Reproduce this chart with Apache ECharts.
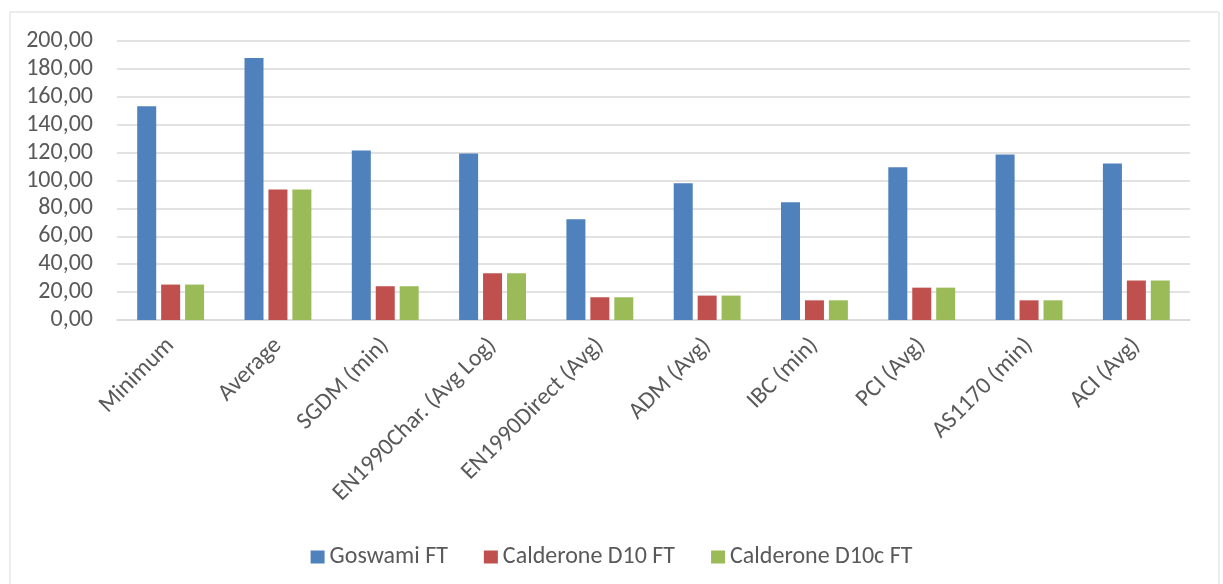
<!DOCTYPE html>
<html>
<head>
<meta charset="utf-8">
<script src="https://cdn.jsdelivr.net/npm/echarts@6/dist/echarts.min.js"></script>
<style>
  html, body { margin: 0; padding: 0; background: #fff; }
  #chart { width: 1223px; height: 584px; }
</style>
</head>
<body>
<div id="chart"></div>
<script>
const categories = ['Minimum', 'Average', 'SGDM (min)', 'EN1990Char. (Avg Log)', 'EN1990Direct (Avg)',
  'ADM (Avg)', 'IBC (min)', 'PCI (Avg)', 'AS1170 (min)', 'ACI (Avg)']
const goswami = [153.2, 187.9, 121.5, 119.3, 72.2, 98.0, 84.4, 109.5, 118.6, 112.2]
const calderoneD10 = [25.4, 93.5, 24.2, 33.5, 16.3, 17.5, 14.1, 23.2, 14.1, 28.3]
const calderoneD10c = [25.4, 93.5, 24.2, 33.5, 16.3, 17.5, 14.1, 23.2, 14.1, 28.3]
const seriesNames = ['Goswami FT', 'Calderone D10 FT', 'Calderone D10c FT']
const colors = ['#4f81bd', '#c0504d', '#9bbb59']

const font = 'Carlito, "Liberation Sans", sans-serif'
let myChart = echarts.init(document.getElementById('chart'))

const makeBar = (name, data, color) => ({
  name: name,
  type: 'bar',
  barWidth: 19,
  barGap: '26%',
  itemStyle: { color: color },
  data: data
})

let options = {
  animation: false,
  textStyle: { fontFamily: font },
  graphic: [{
    type: 'rect',
    shape: { x: 10, y: 12, width: 1209, height: 580 },
    style: { fill: 'none', stroke: '#d9d9d9', lineWidth: 1 }
  }],
  grid: { left: 117, right: 33, top: 41, bottom: 264 },
  legend: {
    top: 540,
    left: 'center',
    itemWidth: 14,
    itemHeight: 13,
    itemGap: 36,
    icon: 'rect',
    textStyle: { fontSize: 24, color: '#595959', fontFamily: font },
    data: seriesNames
  },
  xAxis: {
    type: 'category',
    data: categories,
    axisTick: { show: false },
    axisLine: { lineStyle: { color: '#d9d9d9', width: 1.5 } },
    axisLabel: {
      rotate: 45,
      interval: 0,
      margin: 22,
      fontSize: 24,
      color: '#595959',
      fontFamily: font
    }
  },
  yAxis: {
    type: 'value',
    min: 0,
    max: 200,
    interval: 20,
    axisLine: { show: false },
    axisTick: { show: false },
    splitLine: { lineStyle: { color: '#d9d9d9', width: 1.5 } },
    axisLabel: {
      margin: 24,
      fontSize: 24,
      color: '#595959',
      fontFamily: font,
      formatter: v => v.toFixed(2).replace('.', ',')
    }
  },
  series: [
    makeBar(seriesNames[0], goswami, colors[0]),
    makeBar(seriesNames[1], calderoneD10, colors[1]),
    makeBar(seriesNames[2], calderoneD10c, colors[2])
  ]
}
myChart.setOption(options)
</script>
</body>
</html>
